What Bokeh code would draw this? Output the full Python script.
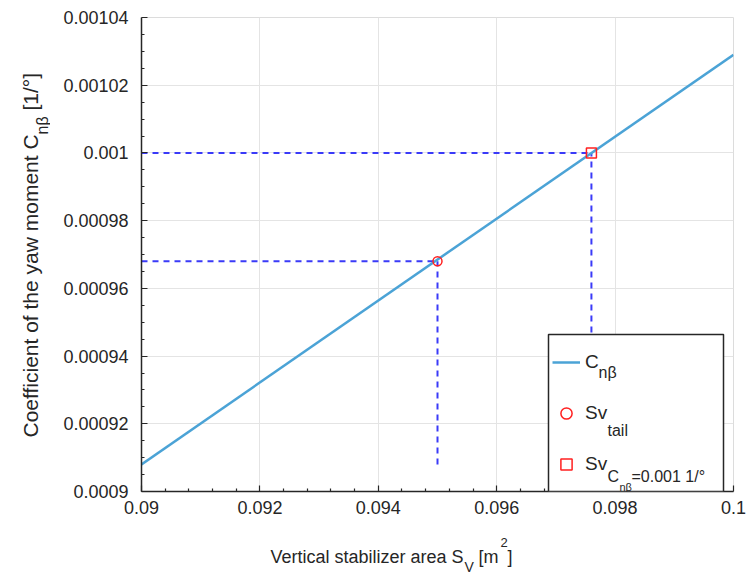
import numpy as np
from bokeh.plotting import figure
from bokeh.layouts import row, column
from bokeh.models import (Range1d, FixedTicker, CustomJSTickFormatter, Label,
                          BoxAnnotation, Legend, LegendItem)
from bokeh.embed import file_html
from bokeh.resources import INLINE

# ---- data ----
sv_line = [0.09, 0.1]                 # vertical stabilizer area S_V [m^2]
cn_line = [0.000908, 0.001029]        # C_n_beta [1/deg]
sv_tail = [0.095]
cn_tail = [0.000968]
sv_req = [0.0976]
cn_req = [0.001]
x_ticks = [0.09, 0.092, 0.094, 0.096, 0.098, 0.1]
y_ticks = [0.0009, 0.00092, 0.00094, 0.00096, 0.00098, 0.001, 0.00102, 0.00104]

FONT = "Liberation Sans"
TXT = "#262626"


def minors(ticks, n):
    out = []
    for a, b in zip(ticks[:-1], ticks[1:]):
        out.extend(list(np.linspace(a, b, n + 1)[1:-1]))
    return out


# overall canvas and frame placement (canvas pixels)
W, H = 748, 574
YL_W = 50            # width of the strip holding the y-axis title
XL_H = 44            # height of the strip holding the x-axis title
FL, FR, FT, FB = 141, 733, 17, 491
MW, MH = W - YL_W, H - XL_H

p = figure(width=MW, height=MH, output_backend="svg", toolbar_location=None,
           x_range=Range1d(x_ticks[0], x_ticks[-1]),
           y_range=Range1d(y_ticks[0], y_ticks[-1]),
           min_border_left=FL - YL_W, min_border_right=W - FR,
           min_border_top=FT, min_border_bottom=MH - FB, title=None)
p.background_fill_color = "white"
p.border_fill_color = "white"
p.outline_line_color = "#DCDCDC"
p.outline_line_width = 1

fmt = CustomJSTickFormatter(code="return String(parseFloat(tick.toPrecision(6)));")
p.xaxis.ticker = FixedTicker(ticks=x_ticks, minor_ticks=minors(x_ticks, 5))
p.yaxis.ticker = FixedTicker(ticks=y_ticks, minor_ticks=minors(y_ticks, 4))
for ax in (p.xaxis, p.yaxis):
    ax.formatter = fmt
    ax.axis_line_color = TXT
    ax.axis_line_width = 1.5
    ax.major_tick_in = 6
    ax.major_tick_out = 0
    ax.minor_tick_in = 3
    ax.minor_tick_out = 0
    ax.major_tick_line_color = TXT
    ax.minor_tick_line_color = TXT
    ax.major_tick_line_width = 1.2
    ax.minor_tick_line_width = 1.2
    ax.major_label_text_font = FONT
    ax.major_label_text_font_size = "18px"
    ax.major_label_text_color = TXT
    ax.axis_label = None
p.xaxis.major_label_standoff = 9
p.yaxis.major_label_standoff = 13

p.grid.grid_line_color = "#E4E4E4"
p.grid.grid_line_width = 1

# dashed guide lines
p.segment(x0=[x_ticks[0], x_ticks[0]], y0=[cn_tail[0], cn_req[0]],
          x1=[sv_tail[0], sv_req[0]], y1=[cn_tail[0], cn_req[0]],
          line_color="#3A3AF8", line_width=2, line_dash="6 5")
p.segment(x0=[sv_tail[0], sv_req[0]], y0=[cn_line[0], cn_line[0]],
          x1=[sv_tail[0], sv_req[0]], y1=[cn_tail[0], cn_req[0]],
          line_color="#3A3AF8", line_width=2, line_dash="6 5")

r_line = p.line(sv_line, cn_line, line_color="#4BA3D6", line_width=2.5)
r_tail = p.scatter(sv_tail, cn_tail, marker="circle", size=9, fill_alpha=0,
                   line_color="#FF2020", line_width=1.5)
r_req = p.scatter(sv_req, cn_req, marker="square", size=10, fill_alpha=0,
                  line_color="#FF2020", line_width=1.5)

# legend box (opaque, black border)
box = BoxAnnotation(left=548 - FL, right=723 - FL, bottom=0, top=FB - 334,
                    left_units="screen", right_units="screen",
                    bottom_units="screen", top_units="screen",
                    fill_color="white", fill_alpha=1,
                    line_color=TXT, line_alpha=1, line_width=1.5)
p.add_layout(box)

legend = Legend(items=[LegendItem(label="C", renderers=[r_line]),
                       LegendItem(label="Sv", renderers=[r_tail]),
                       LegendItem(label="Sv", renderers=[r_req])],
                location=(544 - FL, -1), padding=8, spacing=11, margin=0,
                glyph_width=28, glyph_height=40, label_height=40,
                label_standoff=5, label_text_font=FONT,
                label_text_font_size="19px", label_text_color=TXT,
                label_text_baseline="alphabetic",
                border_line_alpha=0, background_fill_alpha=0)
p.add_layout(legend)


def make_lab(fig, ox, oy_bottom, text, X, Y, size, angle=0.0):
    """Place text at canvas pixel (X, Y) inside a figure whose frame's
    left edge is at canvas x=ox and bottom edge at canvas y=oy_bottom."""
    fig.add_layout(Label(x=X - ox, y=oy_bottom - Y, x_units="screen",
                         y_units="screen", text=text, text_font=FONT,
                         text_font_size=f"{size}px", text_color=TXT,
                         text_align="left", text_baseline="alphabetic",
                         angle=angle))


# legend subscripts (inside the main frame)
make_lab(p, FL, FB, "nβ", 598, 372, 16)
make_lab(p, FL, FB, "tail", 607, 430, 16)
make_lab(p, FL, FB, "C", 607, 476, 16)
make_lab(p, FL, FB, "nβ", 619, 486, 11)
make_lab(p, FL, FB, "=0.001 1/°", 631, 476, 16)


def blank(w, h):
    f = figure(width=w, height=h, output_backend="svg", toolbar_location=None,
               x_axis_type=None, y_axis_type=None, title=None,
               min_border=0, min_border_left=0, min_border_right=0,
               min_border_top=0, min_border_bottom=0,
               x_range=Range1d(0, 1), y_range=Range1d(0, 1))
    f.outline_line_color = None
    f.grid.visible = False
    f.background_fill_color = "white"
    f.border_fill_color = "white"
    return f


# x-axis title strip (its frame is aligned with the main frame: left at FL)
xl = blank(MW, XL_H)
make_lab(xl, FL, H, "Vertical stabilizer area S", 270, 556, 18)
make_lab(xl, FL, H, "V", 464, 566, 14)
make_lab(xl, FL, H, "[m", 478, 556, 18)
make_lab(xl, FL, H, "2", 500, 542, 13)
make_lab(xl, FL, H, "]", 507, 556, 18)

# y-axis title strip (rotated text)
yl = blank(YL_W, H)
A = np.pi / 2
make_lab(yl, 0, H, "Coefficient of the yaw moment C", 30, 437, 21, A)
make_lab(yl, 0, H, "nβ", 42, 134, 16, A)
make_lab(yl, 0, H, "[1/°]", 30, 110, 21, A)

layout = row(yl, column(p, xl, spacing=0), spacing=0)

open("out.html", "w").write(file_html(layout, INLINE))
